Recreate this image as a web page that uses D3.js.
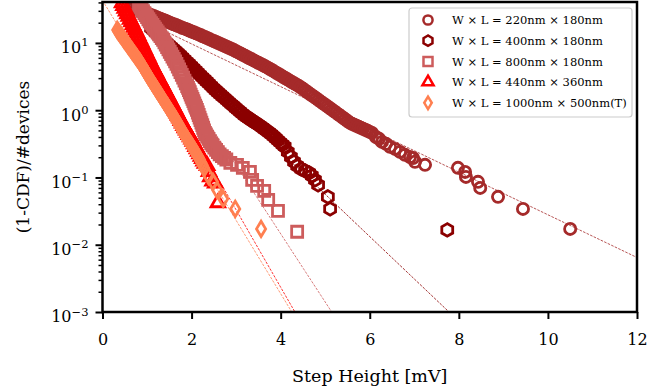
<!DOCTYPE html>
<html><head><meta charset="utf-8">
<script src="https://cdn.jsdelivr.net/npm/d3@7"></script>
<style>body{margin:0;background:#fff}</style>
</head><body><svg id="c" width="647" height="390"></svg>
<script>
// ---------------- data ----------------
const xTicks = [0, 2, 4, 6, 8, 10, 12];
const yTicks = [1e-3, 1e-2, 1e-1, 1, 10];
const yTickExp = ["\u22123", "\u22122", "\u22121", "0", "1"];
const legendLabels = [
  "W \u00d7 L = 220nm \u00d7 180nm",
  "W \u00d7 L = 400nm \u00d7 180nm",
  "W \u00d7 L = 800nm \u00d7 180nm",
  "W \u00d7 L = 440nm \u00d7 360nm",
  "W \u00d7 L = 1000nm \u00d7 500nm(T)"
];
const colors = ["#a52a2a", "#8b0000", "#cd5c5c", "#ff0000", "#ff7f50"];

// series 1: 220x180 (circles)
const s1x = [0.65,0.70,0.75,0.80,0.85,0.90,0.95,1.00,1.05,1.10,1.15,1.20,1.25,1.30,1.35,1.40,1.45,1.50,1.55,1.60,1.65,1.70,1.75,1.80,1.85,1.90,1.95,2.00,2.05,2.10,2.15,2.20,2.25,2.30,2.35,2.40,2.45,2.50,2.55,2.60,2.65,2.70,2.75,2.80,2.85,2.90,2.95,3.00,3.05,3.10,3.15,3.20,3.25,3.30,3.35,3.40,3.45,3.50,3.55,3.60,3.65,3.70,3.75,3.80,3.85,3.90,3.95,4.00,4.05,4.10,4.15,4.20,4.25,4.30,4.35,4.40,4.45,4.50,4.55,4.60,4.65,4.70,4.75,4.80,4.85,4.90,4.95,5.00,5.05,5.10,5.15,5.20,5.25,5.30,5.35,5.40,5.45,5.50,5.55,5.60,5.65,5.70,5.75,5.80,5.85,5.90,5.95,6.00,6.05,6.14,6.21,6.275,6.365,6.455,6.567,6.679,6.791,6.904,6.971,7.016,7.241,7.98,8.14,8.16,8.43,8.48,8.88,9.44,10.50];
const s1y = [33.6,32.7,31.7,30.8,29.9,29.0,28.2,27.4,26.6,25.8,25.1,24.3,23.5,22.8,22.1,21.5,20.8,20.2,19.5,19.0,18.4,17.8,17.3,16.7,16.3,15.8,15.3,14.8,14.4,13.9,13.5,13.1,12.6,12.2,11.8,11.4,11.0,10.7,10.3,9.96,9.62,9.31,8.99,8.69,8.40,8.11,7.82,7.52,7.23,6.95,6.68,6.43,6.18,5.93,5.70,5.48,5.27,5.07,4.88,4.69,4.51,4.33,4.13,3.95,3.78,3.61,3.45,3.30,3.15,3.01,2.88,2.75,2.63,2.52,2.40,2.30,2.19,2.08,1.96,1.86,1.76,1.67,1.58,1.50,1.42,1.34,1.27,1.20,1.14,1.08,1.02,0.966,0.914,0.865,0.817,0.773,0.731,0.690,0.653,0.628,0.607,0.586,0.566,0.547,0.528,0.511,0.493,0.476,0.460,0.40,0.375,0.338,0.316,0.285,0.266,0.240,0.217,0.202,0.195,0.171,0.154,0.139,0.121,0.102,0.0861,0.070,0.0515,0.0341,0.0172];

// series 2: 400x180 (hexagons)
const s2x = [1.09,1.14,1.19,1.24,1.29,1.34,1.39,1.44,1.49,1.54,1.59,1.64,1.69,1.74,1.79,1.84,1.89,1.94,1.99,2.04,2.09,2.14,2.19,2.24,2.29,2.34,2.39,2.44,2.49,2.54,2.59,2.64,2.69,2.74,2.79,2.84,2.89,2.94,2.99,3.04,3.09,3.14,3.19,3.24,3.29,3.34,3.39,3.44,3.49,3.54,3.59,3.64,3.69,3.74,3.79,3.84,3.89,3.94,3.99,4.04,4.09,4.16,4.23,4.30,4.37,4.46,4.55,4.64,4.70,4.77,4.84,5.06,5.11,7.74];
const s2y = [16.7,15.5,14.4,13.3,12.3,11.5,10.7,10.0,9.33,8.73,8.15,7.60,7.11,6.64,6.15,5.70,5.28,4.90,4.54,4.21,3.90,3.61,3.35,3.10,2.88,2.67,2.48,2.30,2.13,1.98,1.85,1.73,1.61,1.51,1.41,1.32,1.23,1.16,1.08,1.01,0.948,0.889,0.834,0.791,0.752,0.715,0.679,0.647,0.615,0.585,0.552,0.521,0.493,0.466,0.440,0.411,0.383,0.356,0.332,0.309,0.288,0.240,0.202,0.171,0.149,0.134,0.125,0.117,0.106,0.092,0.0776,0.0515,0.0341,0.0166];

// series 3: 800x180 (squares)
const s3x = [0.82,0.85,0.88,0.91,0.94,0.97,1.00,1.03,1.06,1.09,1.12,1.15,1.18,1.21,1.24,1.27,1.30,1.33,1.36,1.39,1.42,1.45,1.48,1.51,1.54,1.57,1.60,1.63,1.66,1.69,1.72,1.75,1.78,1.81,1.84,1.87,1.90,1.92,1.94,1.96,1.98,2.00,2.02,2.04,2.06,2.08,2.10,2.12,2.14,2.16,2.18,2.20,2.22,2.24,2.26,2.28,2.30,2.32,2.35,2.38,2.41,2.44,2.47,2.51,2.55,2.59,2.63,2.68,2.73,2.78,2.87,3.02,3.15,3.31,3.36,3.47,3.63,3.72,3.94,4.37];
const s3y = [36.7,34.3,31.9,29.8,27.8,25.9,24.2,22.5,21.0,19.7,18.5,17.3,16.3,15.2,14.3,13.4,12.6,11.8,11.1,10.2,9.42,8.69,8.02,7.39,6.81,6.27,5.78,5.33,4.89,4.45,4.05,3.67,3.34,3.04,2.76,2.51,2.29,2.14,1.99,1.85,1.71,1.58,1.47,1.36,1.26,1.17,1.09,1.01,0.925,0.848,0.777,0.711,0.653,0.598,0.548,0.502,0.460,0.438,0.405,0.374,0.347,0.321,0.299,0.277,0.257,0.238,0.221,0.207,0.196,0.185,0.165,0.154,0.139,0.121,0.092,0.075,0.0632,0.0465,0.0319,0.0156];

// series 4: 440x360 (triangles)
const s4x = [0.44,0.47,0.50,0.53,0.56,0.59,0.62,0.65,0.68,0.71,0.74,0.77,0.80,0.83,0.86,0.89,0.92,0.95,0.98,1.01,1.04,1.07,1.10,1.13,1.16,1.19,1.22,1.25,1.28,1.31,1.34,1.37,1.40,1.43,1.46,1.49,1.52,1.55,1.58,1.61,1.64,1.67,1.70,1.73,1.76,1.79,1.82,1.85,1.88,1.91,1.94,1.97,2.00,2.03,2.06,2.09,2.12,2.15,2.18,2.21,2.24,2.27,2.30,2.35,2.39,2.42,2.47,2.53,2.59];
const s4y = [39.3,35.8,32.6,29.7,27.0,24.7,22.4,20.5,18.6,17.0,15.5,14.1,12.8,11.6,10.5,9.55,8.67,7.87,7.13,6.47,5.87,5.33,4.84,4.40,4.03,3.70,3.39,3.10,2.85,2.61,2.39,2.20,2.01,1.85,1.69,1.55,1.42,1.30,1.19,1.09,0.999,0.914,0.837,0.766,0.701,0.642,0.590,0.546,0.506,0.468,0.434,0.402,0.372,0.342,0.314,0.288,0.265,0.243,0.223,0.206,0.190,0.175,0.162,0.150,0.122,0.102,0.088,0.082,0.042];

// series 5: 1000x500(T) (thin diamonds)
const s5x = [0.33,0.36,0.39,0.42,0.45,0.48,0.51,0.54,0.57,0.60,0.63,0.66,0.69,0.72,0.75,0.78,0.81,0.84,0.87,0.90,0.93,0.96,0.99,1.02,1.05,1.08,1.11,1.14,1.17,1.20,1.23,1.26,1.29,1.32,1.35,1.38,1.41,1.44,1.47,1.50,1.53,1.56,1.59,1.62,1.65,1.68,1.71,1.74,1.77,1.80,1.83,1.86,1.89,1.92,1.95,1.98,2.01,2.04,2.07,2.10,2.13,2.16,2.19,2.22,2.25,2.28,2.38,2.48,2.57,2.71,2.98,3.56];
const s5y = [15.6,14.6,13.7,12.9,12.1,11.3,10.6,9.95,9.33,8.75,8.20,7.69,7.21,6.76,6.34,5.94,5.58,5.22,4.84,4.49,4.16,3.85,3.56,3.30,3.06,2.84,2.63,2.45,2.28,2.12,1.97,1.83,1.71,1.59,1.48,1.37,1.28,1.19,1.11,1.03,0.957,0.891,0.830,0.771,0.718,0.662,0.612,0.565,0.522,0.482,0.446,0.411,0.383,0.356,0.332,0.310,0.288,0.269,0.249,0.230,0.213,0.198,0.183,0.166,0.152,0.138,0.105,0.086,0.0655,0.0481,0.0341,0.0172];

// exponential fits (straight on log axis): start / end points
const fitX0 = [1.0, 1.1, 1.3, 0.0, 0.0];
const fitY0 = [20.1, 16.1, 8.02, 92.9, 42.9];
const fitX1 = [12.0, 7.78, 5.146, 4.32, 4.25];
const fitY1 = [0.00646, 0.001, 0.001, 0.001, 0.001];

// ---------------- drawing ----------------
const FONT = "DejaVu Serif";
const svg = d3.select("#c");
const L = 102.5, R = 637, T = 2, B = 312;
const x = d3.scaleLinear().domain([0, 12]).range([L, R]);
const y = d3.scaleLog().domain([1e-3, 40.6]).range([B, T]);

svg.append("defs").append("clipPath").attr("id", "clip")
  .append("rect").attr("x", L).attr("y", T).attr("width", R - L).attr("height", B - T);

const plot = svg.append("g").attr("clip-path", "url(#clip)");

// marker shapes
const hexType = { draw(ctx, size) { const r = Math.sqrt(size / 2.598);
  for (let k = 0; k < 6; k++) { const a = Math.PI / 2 + k * Math.PI / 3;
    const px = r * Math.cos(a), py = -r * Math.sin(a);
    if (k === 0) ctx.moveTo(px, py); else ctx.lineTo(px, py); } ctx.closePath(); } };
const thinDiamond = { draw(ctx, size) { const h = Math.sqrt(size / 1.2);
  const w = h * 0.6; ctx.moveTo(0, -h); ctx.lineTo(w, 0); ctx.lineTo(0, h); ctx.lineTo(-w, 0); ctx.closePath(); } };
function shape(i, k) {
  const s = [
    d3.symbol().type(d3.symbolCircle).size(Math.PI * 5.6 * 5.6 * k * k),
    d3.symbol().type(hexType).size(2.598 * 6.3 * 6.3 * k * k),
    d3.symbol().type(d3.symbolSquare).size(11 * 11 * k * k),
    d3.symbol().type(d3.symbolTriangle).size(80 * k * k),
    d3.symbol().type(thinDiamond).size(1.2 * 7.6 * 7.6 * k * k)
  ];
  return s[i];
}
const SW = 2.8;

// fit lines
for (let i = 0; i < 5; i++) {
  plot.append("line")
    .attr("x1", x(fitX0[i])).attr("y1", y(fitY0[i]))
    .attr("x2", x(fitX1[i])).attr("y2", y(fitY1[i]))
    .attr("stroke", colors[i]).attr("stroke-width", 0.8)
    .attr("stroke-dasharray", "2.6,1.3");
}

const series = [[s1x, s1y], [s2x, s2y], [s3x, s3y], [s4x, s4y], [s5x, s5y]];
series.forEach(([xs, ys], i) => {
  const pts = xs.map((v, j) => [v, ys[j]]);
  plot.append("g").selectAll("path").data(pts).join("path")
    .attr("d", shape(i, 1))
    .attr("transform", d => `translate(${x(d[0])},${y(d[1])})`)
    .attr("fill", "none").attr("stroke", colors[i]).attr("stroke-width", SW);
});

// axes
const xAxis = svg.append("g").attr("transform", `translate(0,${B})`)
  .call(d3.axisBottom(x).tickValues(xTicks).tickSize(7).tickPadding(15).tickFormat(d3.format("d")));
xAxis.select(".domain").remove();
xAxis.selectAll("line").attr("stroke-width", 2);
xAxis.selectAll("text").attr("font-family", FONT).attr("font-size", 16).attr("fill", "#000");

const yAxis = svg.append("g").attr("transform", `translate(${L},0)`)
  .call(d3.axisLeft(y).tickValues(yTicks).tickSize(7).tickFormat(() => ""));
yAxis.select(".domain").remove();
yAxis.selectAll("line").attr("stroke-width", 2);
yAxis.selectAll(".tick").each(function (d, i) {
  const t = d3.select(this).select("text").attr("x", -14).attr("dy", "0.62em")
    .attr("font-family", FONT).attr("font-size", 16).attr("fill", "#000");
  t.text(null);
  t.append("tspan").text("10");
  t.append("tspan").attr("dy", "-0.6em").attr("font-size", 11.5).text(yTickExp[i]);
});
const minor = [];
for (let e = -3; e <= 1; e++) for (let m = 2; m <= 9; m++) { const v = m * Math.pow(10, e); if (v <= 40.6) minor.push(v); }
const yMinor = svg.append("g").attr("transform", `translate(${L},0)`)
  .call(d3.axisLeft(y).tickValues(minor).tickSize(4).tickFormat(() => ""));
yMinor.select(".domain").remove();
yMinor.selectAll("line").attr("stroke-width", 1.5);

svg.append("rect").attr("x", L).attr("y", T).attr("width", R - L).attr("height", B - T)
  .attr("fill", "none").attr("stroke", "#000").attr("stroke-width", 2.5);

svg.append("text").attr("x", (L + R) / 2).attr("y", 382).attr("text-anchor", "middle")
  .attr("font-family", FONT).attr("font-size", 17.5).text("Step Height [mV]");
svg.append("text").attr("transform", `translate(29,${(T + B) / 2}) rotate(-90)`)
  .attr("text-anchor", "middle").attr("font-family", FONT).attr("font-size", 17)
  .text("(1-CDF)/#devices");

// legend
const lg = svg.append("g");
lg.append("rect").attr("x", 409).attr("y", 8).attr("width", 223).attr("height", 109).attr("rx", 3)
  .attr("fill", "#fff").attr("fill-opacity", 0.85).attr("stroke", "#cccccc").attr("stroke-width", 1.2);
legendLabels.forEach((lab, i) => {
  const yy = 20 + i * 20.7;
  lg.append("path").attr("d", shape(i, 0.82)).attr("transform", `translate(428,${yy})`)
    .attr("fill", "none").attr("stroke", colors[i]).attr("stroke-width", 2.5);
  lg.append("text").attr("x", 452).attr("y", yy).attr("dy", "0.36em")
    .attr("font-family", FONT).attr("font-size", 11.5).text(lab);
});
</script></body></html>
